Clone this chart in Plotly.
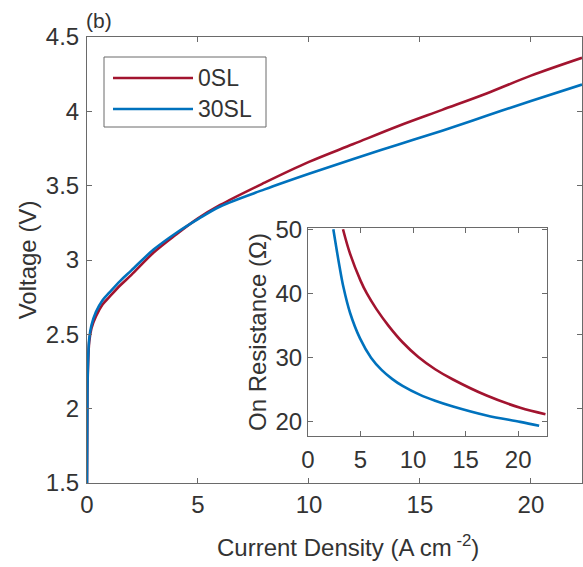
import plotly.graph_objects as go

# ---- data ----
j_main = [0, 0.02, 0.05, 0.1, 0.2, 0.4, 0.7, 1, 1.5, 2, 3, 4, 5, 6, 8, 10, 12, 14, 16, 18, 20, 22.3]
v_0sl = [1.5, 2.1, 2.3, 2.45, 2.54, 2.62, 2.7, 2.75, 2.83, 2.9, 3.05, 3.17, 3.28, 3.37, 3.52, 3.66, 3.78, 3.90, 4.01, 4.12, 4.24, 4.36]
v_30sl = [1.5, 2.12, 2.33, 2.47, 2.56, 2.65, 2.73, 2.78, 2.86, 2.93, 3.07, 3.18, 3.275, 3.36, 3.475, 3.58, 3.68, 3.775, 3.87, 3.97, 4.07, 4.18]

j_r0 = [3.33, 4, 5, 5.6, 6.5, 7.65, 9, 10.5, 12.1, 13.8, 17, 20.2, 22.6]
r_0sl = [50, 46.2, 42.0, 40.0, 37.6, 35.0, 32.4, 30.1, 28.2, 26.6, 24.1, 22.2, 21.2]
j_r30 = [2.41, 3, 3.37, 4, 4.95, 6, 7, 8, 9, 10.67, 12.1, 13.8, 17, 20.2, 22.0]
r_30sl = [50, 44.2, 41.0, 37.0, 33.0, 30.0, 28.1, 26.7, 25.6, 24.2, 23.3, 22.4, 21.0, 20.0, 19.4]

names = ["0SL", "30SL"]
colors = ["#A2142F", "#0072BD"]

main_xticks = [0, 5, 10, 15, 20]
main_yticks = [1.5, 2, 2.5, 3, 3.5, 4, 4.5]
inset_xticks = [0, 5, 10, 15, 20]
inset_yticks = [20, 30, 40, 50]

FONT = "Liberation Sans, Arial, sans-serif"
TXT = "#333333"
AX = "#6a6a6a"
FS = 24

W, H = 583, 567
L, R, T, B = 87, 1, 37, 84
PW, PH = W - L - R, H - T - B


def px(xp):
    return (xp - L) / PW


def py(yp):
    return (H - B - yp) / PH


fig = go.Figure()
fig.add_trace(go.Scatter(x=j_main, y=v_0sl, mode="lines", name=names[0],
                         line=dict(color=colors[0], width=2.6, shape="spline"), showlegend=False))
fig.add_trace(go.Scatter(x=j_main, y=v_30sl, mode="lines", name=names[1],
                         line=dict(color=colors[1], width=2.6, shape="spline"), showlegend=False))
fig.add_trace(go.Scatter(x=j_r0, y=r_0sl, mode="lines", name=names[0], xaxis="x2", yaxis="y2",
                         line=dict(color=colors[0], width=2.6, shape="spline"), showlegend=False))
fig.add_trace(go.Scatter(x=j_r30, y=r_30sl, mode="lines", name=names[1], xaxis="x2", yaxis="y2",
                         line=dict(color=colors[1], width=2.6, shape="spline"), showlegend=False))

axis_common = dict(showline=True, linecolor=AX, linewidth=1, mirror="ticks", ticks="inside",
                   ticklen=5, tickcolor=AX, showgrid=False, zeroline=False, automargin=False,
                   tickfont=dict(family=FONT, size=FS, color=TXT))

fig.update_layout(
    width=W, height=H,
    margin=dict(l=L, r=R, t=T, b=B),
    paper_bgcolor="white", plot_bgcolor="white",
    font=dict(family=FONT, color=TXT),
    xaxis=dict(range=[0, 22.3], tickvals=main_xticks, domain=[0, 1],
               ticklabelstandoff=0, **axis_common),
    yaxis=dict(range=[1.5, 4.5], tickvals=main_yticks, ticktext=[str(t) for t in main_yticks], domain=[0, 1],
               title=dict(text="Voltage (V)", font=dict(size=FS, family=FONT, color=TXT), standoff=2),
               ticklabelstandoff=2, **axis_common),
    xaxis2=dict(range=[0, 22.7], tickvals=inset_xticks, domain=[px(308), px(546.5)], anchor="y2",
                ticklabelstandoff=2, **axis_common),
    yaxis2=dict(range=[17.8, 50.2], tickvals=inset_yticks, domain=[py(436), py(228)], anchor="x2",
                title=dict(text="On Resistance (Ω)", font=dict(size=FS, family=FONT, color=TXT), standoff=2),
                ticklabelstandoff=0, **axis_common),
)

# manual legend (MATLAB-style long line samples)
shapes = [dict(type="rect", xref="paper", yref="paper", x0=px(104), x1=px(266), y0=py(127), y1=py(57),
               line=dict(color=AX, width=1), fillcolor="white")]
leg_y = [py(78), py(109)]
for c, yy in zip(colors, leg_y):
    shapes.append(dict(type="line", xref="paper", yref="paper", x0=px(113), x1=px(193), y0=yy, y1=yy,
                       line=dict(color=c, width=2.6)))
fig.update_layout(shapes=shapes)

annotations = []
for n, yy in zip(names, leg_y):
    annotations.append(dict(text=n, xref="paper", yref="paper", x=px(196), y=yy, xanchor="left", yanchor="middle",
                            showarrow=False, font=dict(family=FONT, size=23, color=TXT)))
annotations.append(dict(text="(b)", xref="paper", yref="paper", x=px(84), y=py(21), xanchor="left", yanchor="middle",
                        showarrow=False, font=dict(family=FONT, size=21, color=TXT)))
annotations.append(dict(text="Current Density (A cm<sup> -2</sup>)", xref="paper", yref="paper", x=px(348), y=py(546),
                        xanchor="center", yanchor="middle", showarrow=False,
                        font=dict(family=FONT, size=FS, color=TXT)))
fig.update_layout(annotations=annotations)

fig.write_html("out.html", config={"displayModeBar": False},
               post_script="document.body.style.margin='0';")
